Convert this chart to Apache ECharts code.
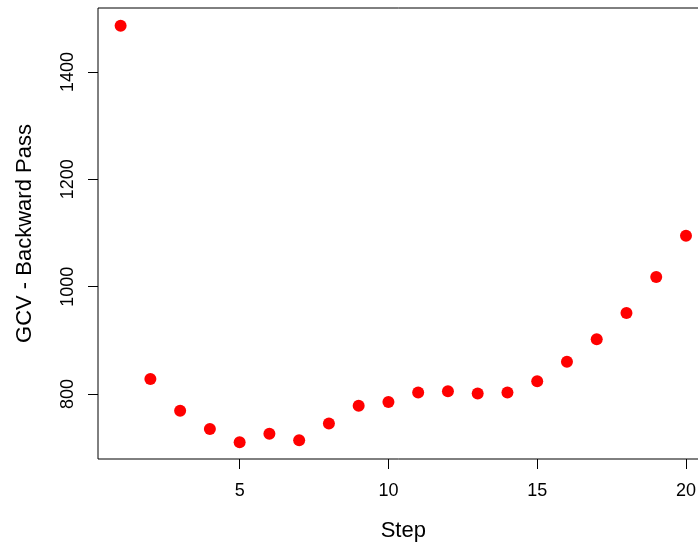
<!DOCTYPE html>
<html>
<head>
<meta charset="utf-8">
<script src="https://cdn.jsdelivr.net/npm/echarts@6/dist/echarts.min.js"></script>
<style>html,body{margin:0;padding:0;background:#fff}#c{width:698px;height:546px}</style>
</head>
<body>
<div id="c"></div>
<script>
var steps = [1,2,3,4,5,6,7,8,9,10,11,12,13,14,15,16,17,18,19,20];
var gcv = [1486,828,769,735,710,726,714,745,778,785,803,805,801,803,824,860,902,951,1018,1095];
var xTicks = [5,10,15,20];
var yTicks = [800,1000,1200,1400];
var xTitle = 'Step';
var yTitle = 'GCV - Backward Pass';

var font = "'Liberation Sans', Arial, sans-serif";
var chart = echarts.init(document.getElementById('c'), null, {renderer:'canvas'});
chart.setOption({
  animation:false,
  backgroundColor:'#fff',
  grid:{left:98, top:8, width:610.6, height:451, show:true, borderColor:'#000', borderWidth:1, backgroundColor:'transparent', containLabel:false, outerBoundsMode:'none'},
  xAxis:{type:'value', min:0.24, max:20.76,
    name:xTitle, nameLocation:'middle', nameGap:61,
    nameTextStyle:{fontFamily:font, fontSize:22, color:'#000'},
    axisLine:{show:false}, splitLine:{show:false},
    axisTick:{show:true, inside:false, length:10, lineStyle:{color:'#000'}, customValues:xTicks},
    axisLabel:{fontFamily:font, fontSize:18, color:'#000', margin:23, customValues:xTicks, formatter:function(v){return String(v);}}
  },
  yAxis:{type:'value', min:679, max:1519,
    name:yTitle, nameLocation:'middle', nameGap:62, nameRotate:90,
    nameTextStyle:{fontFamily:font, fontSize:22, color:'#000'},
    axisLine:{show:false}, splitLine:{show:false},
    axisTick:{show:true, inside:false, length:10, lineStyle:{color:'#000'}, customValues:yTicks},
    axisLabel:{fontFamily:font, fontSize:18, color:'#000', margin:21, rotate:90, customValues:yTicks, formatter:function(v){return String(v);}}
  },
  series:[{type:'scatter', symbol:'circle', symbolSize:12,
    itemStyle:{color:'#ff0000', opacity:1},
    data: steps.map(function(s,i){return [s,gcv[i]];})
  }]
});
</script>
</body>
</html>
